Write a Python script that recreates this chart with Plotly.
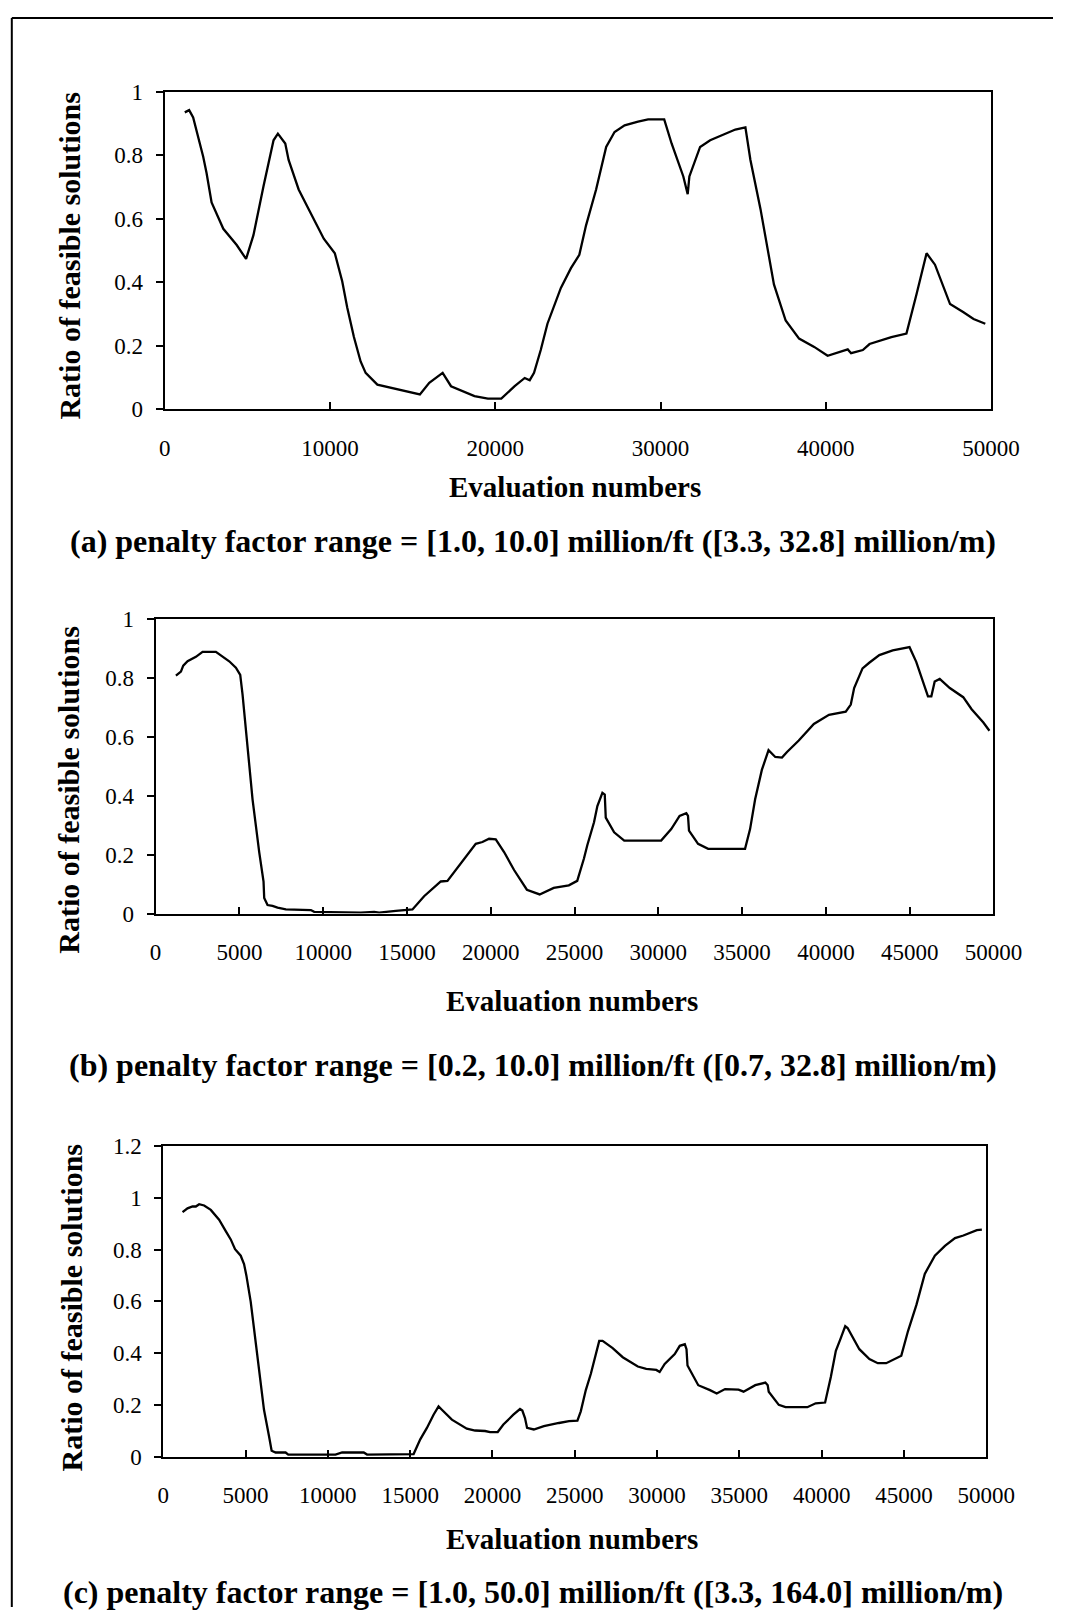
import plotly.graph_objects as go

# ---------------- data ----------------
eval_a = [1216, 1479, 1722, 2330, 2533, 2837, 3546, 4357, 4924, 5370, 5978, 6586, 6849, 7295, 7497,
          8105, 8713, 9119, 9625, 10294, 10740, 11044, 11449, 11854, 12158, 12867, 14083, 15096, 15441,
          16008, 16818, 17325, 18744, 19554, 20365, 21175, 21783, 22087, 22347, 22753, 23159, 23971,
          24580, 25087, 25494, 26103, 26712, 27219, 27828, 28640, 29249, 30223, 30670, 31380, 31644,
          31746, 32395, 33004, 33715, 34527, 35136, 35440, 36050, 36862, 37572, 38384, 39298, 40110,
          41328, 41531, 42241, 42647, 43967, 44880, 45489, 46098, 46606, 47519, 48331, 48940, 49651]
ratio_a = [0.935, 0.942, 0.919, 0.795, 0.744, 0.651, 0.568, 0.517, 0.473, 0.548, 0.702, 0.847, 0.868,
           0.837, 0.785, 0.692, 0.630, 0.589, 0.537, 0.491, 0.403, 0.320, 0.227, 0.150, 0.114, 0.077,
           0.062, 0.050, 0.046, 0.083, 0.114, 0.072, 0.041, 0.033, 0.033, 0.072, 0.098, 0.091, 0.114,
           0.186, 0.269, 0.382, 0.444, 0.486, 0.579, 0.692, 0.826, 0.873, 0.894, 0.906, 0.913, 0.913,
           0.837, 0.733, 0.677, 0.733, 0.826, 0.847, 0.863, 0.881, 0.888, 0.785, 0.630, 0.393, 0.279,
           0.222, 0.196, 0.168, 0.188, 0.176, 0.186, 0.205, 0.227, 0.238, 0.362, 0.491, 0.455, 0.331,
           0.305, 0.284, 0.269]

eval_b = [1213, 1511, 1650, 1908, 2405, 2803, 3598, 3996, 4393, 4791, 5050, 5189, 5388, 5785, 6183,
          6441, 6481, 6680, 6978, 7276, 7773, 9264, 9463, 12246, 13041, 13340, 14334, 15328, 16023,
          16620, 17018, 17415, 17912, 18409, 19105, 19503, 19900, 20298, 20795, 21391, 21988, 22156,
          22917, 23758, 24659, 25160, 25561, 25761, 26162, 26362, 26662, 26803, 26863, 27363, 27964,
          30168, 30769, 31269, 31670, 31770, 31830, 32371, 32972, 35175, 35475, 35776, 36177, 36577,
          36978, 37378, 37679, 38380, 39281, 40183, 41184, 41484, 41685, 42185, 42586, 43187, 43988,
          44989, 45390, 46091, 46292, 46492, 46792, 47393, 48194, 48695, 49396, 49757]
ratio_b = [0.808, 0.822, 0.842, 0.857, 0.872, 0.889, 0.889, 0.874, 0.857, 0.835, 0.811, 0.744, 0.633,
           0.388, 0.209, 0.109, 0.053, 0.029, 0.026, 0.020, 0.014, 0.012, 0.006, 0.003, 0.006, 0.003,
           0.009, 0.014, 0.059, 0.087, 0.109, 0.111, 0.148, 0.187, 0.237, 0.243, 0.254, 0.252, 0.209,
           0.148, 0.092, 0.081, 0.065, 0.087, 0.096, 0.111, 0.187, 0.232, 0.310, 0.365, 0.410, 0.404,
           0.326, 0.276, 0.248, 0.248, 0.287, 0.332, 0.341, 0.332, 0.282, 0.237, 0.220, 0.220, 0.287,
           0.388, 0.488, 0.555, 0.532, 0.530, 0.549, 0.588, 0.644, 0.675, 0.686, 0.710, 0.766, 0.833,
           0.852, 0.878, 0.894, 0.905, 0.855, 0.738, 0.738, 0.788, 0.797, 0.766, 0.735, 0.694, 0.649,
           0.621]

eval_c = [1172, 1475, 1778, 1980, 2182, 2485, 2889, 3394, 3798, 4101, 4363, 4707, 4909, 5050, 5313,
          5717, 6121, 6424, 6585, 6828, 7434, 7595, 10464, 10868, 12181, 12383, 15009, 15211, 15615,
          16019, 16423, 16726, 16928, 17534, 18443, 18948, 19554, 19857, 20321, 20665, 21271, 21675,
          21816, 21978, 22105, 22512, 23124, 23532, 24042, 24653, 25163, 25367, 25673, 25979, 26285,
          26488, 26692, 26998, 27304, 27916, 28833, 29343, 29955, 30159, 30465, 31076, 31382, 31688,
          31790, 31851, 32504, 33217, 33625, 34135, 34950, 35256, 35970, 36581, 36724, 36785, 37397,
          37805, 39130, 39640, 40211, 40558, 40863, 41169, 41434, 41577, 42291, 42903, 43412, 43922,
          44330, 44840, 45248, 45758, 46267, 46879, 47491, 48103, 48612, 49428, 49734]
ratio_c = [0.944, 0.959, 0.966, 0.966, 0.975, 0.970, 0.953, 0.915, 0.871, 0.839, 0.801, 0.776, 0.744,
           0.700, 0.599, 0.384, 0.181, 0.080, 0.023, 0.016, 0.016, 0.008, 0.008, 0.016, 0.016, 0.008,
           0.008, 0.010, 0.067, 0.111, 0.162, 0.194, 0.181, 0.143, 0.108, 0.101, 0.099, 0.095, 0.095,
           0.124, 0.162, 0.184, 0.178, 0.149, 0.111, 0.105, 0.118, 0.124, 0.130, 0.137, 0.139, 0.175,
           0.257, 0.320, 0.396, 0.447, 0.447, 0.434, 0.419, 0.384, 0.348, 0.339, 0.335, 0.327, 0.358,
           0.396, 0.428, 0.434, 0.415, 0.352, 0.276, 0.257, 0.244, 0.261, 0.259, 0.251, 0.276, 0.286,
           0.276, 0.251, 0.200, 0.191, 0.191, 0.206, 0.209, 0.308, 0.409, 0.459, 0.504, 0.497, 0.415,
           0.377, 0.361, 0.361, 0.373, 0.390, 0.485, 0.586, 0.706, 0.776, 0.814, 0.844, 0.854, 0.875,
           0.877]

captions = [
    "(a) penalty factor range = [1.0, 10.0] million/ft ([3.3, 32.8] million/m)",
    "(b) penalty factor range = [0.2, 10.0] million/ft ([0.7, 32.8] million/m)",
    "(c) penalty factor range = [1.0, 50.0] million/ft ([3.3, 164.0] million/m)",
]
x_title = "Evaluation numbers"
y_title = "Ratio of feasible solutions"
x_dticks = [10000, 5000, 5000]
y_ranges = [[0, 1], [0, 1], [0, 1.2]]

# ---------------- layout ----------------
W, H = 1082, 1620
FONT = "Liberation Serif, Times New Roman, serif"

def px(v):
    return v / W

def py(v):
    return 1 - v / H

# plot boxes in pixel coordinates (left, right, top, bottom)
boxes = [(164, 1018, 81, 403.3), (154.6, 1020.5, 616.7, 915.7), (162.5, 1013, 1151.7, 1467.3)]
ytitle_pos = [(66, 247.5), (65, 790), (68, 1316)]
xtitle_y = [482, 1004, 1551]
caption_pos = [(545, 537), (545, 1069), (545, 1605)]

fig = go.Figure()
series = [(eval_a, ratio_a), (eval_b, ratio_b), (eval_c, ratio_c)]
layout = dict(
    width=W, height=H, autosize=False,
    margin=dict(l=0, r=0, t=0, b=0, pad=0),
    paper_bgcolor="white", plot_bgcolor="white",
    showlegend=False,
    font=dict(family=FONT, color="black"),
)
annotations = []
for i, ((xs, ys), (l, r, t, b)) in enumerate(zip(series, boxes)):
    n = i + 1
    xa = "x" if n == 1 else f"x{n}"
    ya = "y" if n == 1 else f"y{n}"
    fig.add_trace(go.Scatter(x=xs, y=ys, mode="lines", xaxis=xa, yaxis=ya,
                             line=dict(color="black", width=2.3), hoverinfo="skip"))
    layout["xaxis" if n == 1 else f"xaxis{n}"] = dict(
        domain=[px(l), px(r)], anchor=ya, range=[0, 50000], dtick=x_dticks[i], tick0=0,
        tickformat="d", showgrid=False, zeroline=False,
        showline=True, linecolor="black", linewidth=2, mirror=True,
        ticks="inside", ticklen=7, tickwidth=1.5, tickcolor="black",
        tickfont=dict(family=FONT, size=23, color="black"), ticklabelstandoff=17,
    )
    layout["yaxis" if n == 1 else f"yaxis{n}"] = dict(
        domain=[py(b), py(t)], anchor=xa, range=y_ranges[i], dtick=0.2, tick0=0,
        showgrid=False, zeroline=False,
        showline=True, linecolor="black", linewidth=2, mirror=True,
        ticks="outside", ticklen=7, tickwidth=1.5, tickcolor="black",
        tickfont=dict(family=FONT, size=23, color="black"), ticklabelstandoff=8,
    )
    cx = (l + r) / 2 - 3
    annotations.append(dict(text=f"<b>{x_title}</b>", x=px(cx), y=py(xtitle_y[i]),
                            xref="paper", yref="paper", xanchor="center", yanchor="middle",
                            showarrow=False, font=dict(family=FONT, size=29, color="black")))
    annotations.append(dict(text=f"<b>{y_title}</b>", x=px(ytitle_pos[i][0]), y=py(ytitle_pos[i][1]),
                            xref="paper", yref="paper", xanchor="center", yanchor="middle",
                            textangle=-90, showarrow=False,
                            font=dict(family=FONT, size=30, color="black")))
    annotations.append(dict(text=f"<b>{captions[i]}</b>", x=px(caption_pos[i][0]), y=py(caption_pos[i][1]),
                            xref="paper", yref="paper", xanchor="center", yanchor="middle",
                            showarrow=False, font=dict(family=FONT, size=32, color="black")))

layout["annotations"] = annotations
# outer frame (left and top edges only, as in the cropped original)
layout["shapes"] = [
    dict(type="line", xref="paper", yref="paper", x0=px(6), x1=px(6), y0=0, y1=py(6),
         line=dict(color="black", width=2)),
    dict(type="line", xref="paper", yref="paper", x0=px(6), x1=1, y0=py(6), y1=py(6),
         line=dict(color="black", width=2)),
]
fig.update_layout(**layout)
fig.write_html("out.html", post_script="document.body.style.margin='0';")
